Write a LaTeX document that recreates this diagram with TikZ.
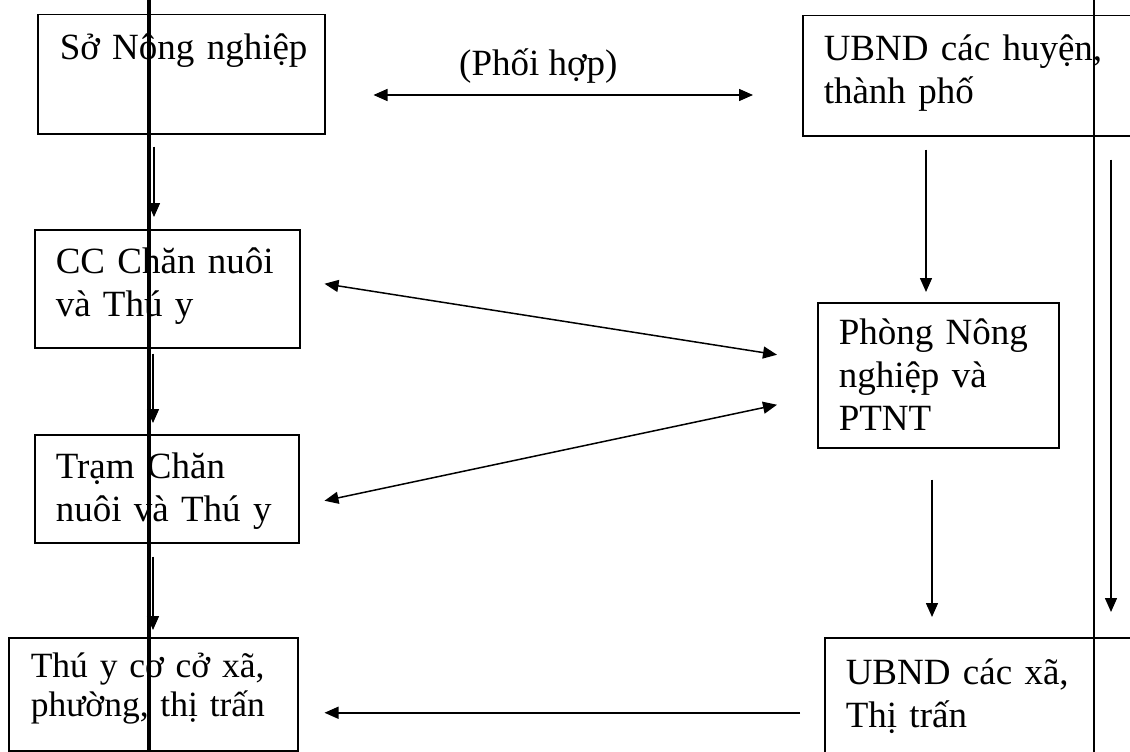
\documentclass[tikz,border=0pt]{standalone}
\usepackage{fontspec}
\setmainfont{Liberation Serif}
\usetikzlibrary{arrows.meta,calc}
\begin{document}
\begin{tikzpicture}[x=1pt,y=-1pt,
  box/.style={draw,line width=1.5pt,rectangle,anchor=north west,align=left,inner ysep=0pt,font=\fontsize{37}{43}\selectfont},
  arr/.style={line width=1.5pt,-{Triangle[length=14pt,width=12pt]}},
  darr/.style={line width=1.5pt,{Triangle[length=14pt,width=12pt]}-{Triangle[length=14pt,width=12pt]}},
  thickbar/.style={line width=3.5pt},
  thinbar/.style={line width=2pt}]
\useasboundingbox (0,0) rectangle (1130,752);
\clip (0,0) rectangle (1130,752);

% boxes
\node[box,minimum width=287pt,minimum height=119pt,text width=243pt,inner xsep=22pt,text height=45pt,text depth=74pt] (so) at (37,14) {\mbox{Sở Nông nghiệp}};
\node[box,minimum width=343pt,minimum height=120pt,text width=301pt,inner xsep=21pt,text height=45pt,text depth=75pt] (ubh) at (802,15) {\mbox{UBND các huyện,}\\\mbox{thành phố}};
\node[box,minimum width=265pt,minimum height=118pt,text width=223pt,inner xsep=21pt,text height=44pt,text depth=74pt] (cc) at (34,229) {\mbox{CC Chăn nuôi}\\\mbox{và Thú y}};
\node[box,minimum width=264pt,minimum height=108pt,text width=222pt,inner xsep=21pt,text height=44pt,text depth=64pt] (tram) at (34,434) {\mbox{Trạm Chăn}\\\mbox{nuôi và Thú y}};
\node[box,minimum width=241pt,minimum height=145pt,text width=199pt,inner xsep=21pt,text height=42pt,text depth=103pt] (phong) at (817,302) {\mbox{Phòng Nông}\\\mbox{nghiệp và}\\\mbox{PTNT}};
\node[box,font=\fontsize{35.5}{39}\selectfont,minimum width=289pt,minimum height=113pt,text width=245pt,inner xsep=22pt,text height=40pt,text depth=73pt] (thuy) at (8,637) {\mbox{Thú y cơ cở xã,}\\\mbox{phường, thị trấn}};
\node[box,minimum width=321pt,minimum height=133pt,text width=279pt,inner xsep=21pt,text height=47pt,text depth=86pt] (ubx) at (824,637) {\mbox{UBND các xã,}\\\mbox{Thị trấn}};

\node[anchor=base west,inner sep=0pt,font=\fontsize{37}{43}\selectfont] (ph) at (459,75) {(Phối hợp)};

% helper coordinates
\coordinate (xa) at (154,0);
\coordinate (xb) at (153,0);
\coordinate (xc) at (926,0);
\coordinate (xd) at (932,0);
\coordinate (xr) at (1111,0);
\coordinate (yp) at (0,95);
\coordinate (lt) at (149,0);
\coordinate (lb) at (149,752);
\coordinate (rt) at (1094,0);
\coordinate (rb) at (1094,752);

% vertical lines
\draw[thickbar] (lt) -- (lb);
\draw[thinbar] (rt) -- (rb);

% arrows
\draw[arr] ($(so.south -| xa)+(0,12)$) -- ($(cc.north -| xa)+(0,-12)$);
\draw[arr] ($(cc.south -| xb)+(0,5)$) -- ($(tram.north -| xb)+(0,-11)$);
\draw[arr] ($(tram.south -| xb)+(0,13)$) -- ($(thuy.north -| xb)+(0,-7)$);
\draw[arr] ($(ubh.south -| xc)+(0,13)$) -- ($(phong.north -| xc)+(0,-10)$);
\draw[arr] ($(phong.south -| xd)+(0,31)$) -- ($(ubx.north -| xd)+(0,-20)$);
\draw[arr] ($(ubh.south -| xr)+(0,23)$) -- ($(ubx.north -| xr)+(0,-25)$);
\draw[darr] ($(so.east |- yp)+(48,0)$) -- ($(ubh.west |- yp)+(-49,0)$);
\draw[darr] ($(cc.east)+(24,-5)$) -- ($(phong.west)+(-40,-20.5)$);
\draw[darr] ($(tram.east)+(25,12)$) -- ($(phong.west)+(-40,29.5)$);
\draw[arr] ($(ubx.west)+(-24,8.5)$) -- ($(thuy.east)+(26,18.5)$);
\end{tikzpicture}
\end{document}
